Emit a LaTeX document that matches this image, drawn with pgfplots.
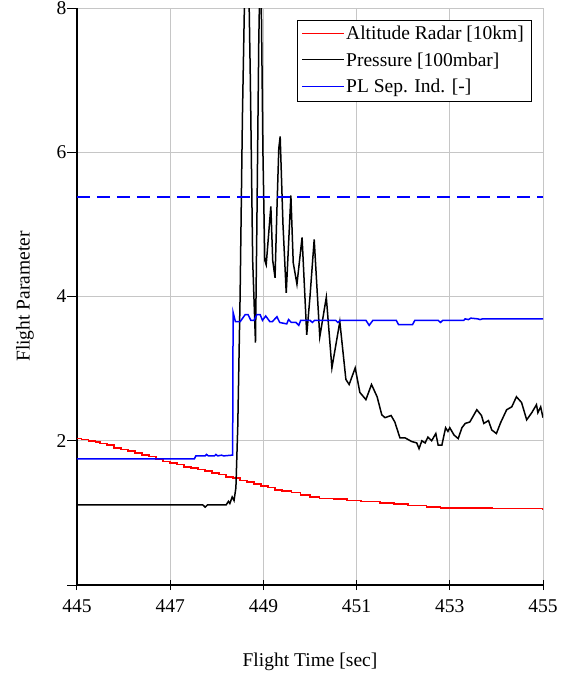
\documentclass[border=0pt]{standalone}
\usepackage{pgfplots}
\pgfplotsset{compat=1.18}
\usepackage{fontspec}
\setmainfont{Liberation Serif}
\begin{document}
\fontsize{19.5}{23}\selectfont
\begin{tikzpicture}
\begin{axis}[
  scale only axis, width=466pt, height=577pt,
  xmin=445, xmax=455, ymin=0, ymax=8,
  xtick={445,447,...,455}, ytick={0,2,4,6,8},
  yticklabels={,2,4,6,8},
  /pgf/number format/assume math mode=true,
  xticklabel style={/pgf/number format/1000 sep={}},
  axis x line=bottom, axis y line=left,
  axis line style={-, line width=1.2pt, black},
  x tick style={black, line width=1pt}, y tick style={black, line width=1pt},
  xtick align=center, ytick align=outside,
  major tick length=10pt,
  grid=major, major grid style={gray!45, line width=0.9pt},
  tick label style={font=\fontsize{19.5}{23}\selectfont},
  xticklabel shift=3pt, yticklabel shift=-6pt,
  xlabel={Flight Time [sec]}, ylabel={Flight Parameter},
  label style={font=\fontsize{19.5}{23}\selectfont},
  xlabel style={at={(axis description cs:0.5,-0.1335)}, anchor=center},
  ylabel style={at={(axis description cs:-0.1116,0.5)}, anchor=center, rotate=0},
  legend style={at={(axis description cs:1,1)}, anchor=north east, xshift=-12pt, yshift=-12pt,
    font=\fontsize{19.5}{23}\selectfont, row sep=0pt, inner xsep=5pt, inner ysep=1pt,
    nodes={inner ysep=5pt}},
  legend cell align=left,
  clip=true,
]
\addplot[red, line width=1.6pt, const plot, forget plot] coordinates {
(445.00,2.03)(445.10,2.02)(445.25,2.00)(445.40,1.98)(445.50,1.96)(445.65,1.94)
(445.80,1.90)(445.95,1.88)(446.10,1.86)(446.25,1.83)(446.40,1.80)(446.55,1.78)
(446.70,1.74)(446.85,1.71)(447.00,1.69)(447.15,1.67)(447.30,1.64)(447.45,1.62)
(447.60,1.60)(447.75,1.58)(447.90,1.55)(448.05,1.53)(448.20,1.50)(448.35,1.48)
(448.50,1.45)(448.65,1.43)(448.80,1.40)(448.95,1.37)(449.10,1.35)(449.25,1.32)
(449.40,1.30)(449.60,1.28)(449.80,1.25)(450.00,1.22)(450.20,1.20)(450.50,1.19)
(450.80,1.17)(451.10,1.16)(451.50,1.14)(451.80,1.12)(452.10,1.10)(452.50,1.08)
(452.80,1.07)(453.50,1.07)(453.90,1.06)(455.00,1.05)};
\addplot[black, line width=1.5pt, forget plot] coordinates {
(445.00,1.11)(447.70,1.11)(447.75,1.08)(447.80,1.11)(448.20,1.11)(448.25,1.16)
(448.28,1.13)(448.33,1.22)(448.37,1.17)(448.41,1.35)(448.45,2.2)(448.50,4.0)
(448.55,6.5)(448.60,8.3)(448.67,9.0)(448.72,7.0)(448.77,4.5)(448.83,3.36)
(448.86,5.0)(448.90,7.5)(448.94,9.0)(448.99,6.0)(449.03,4.50)(449.06,4.44)
(449.16,5.25)(449.20,4.5)(449.25,4.26)(449.29,5.2)(449.33,6.05)(449.36,6.22)
(449.42,5.0)(449.49,4.05)(449.59,5.40)(449.64,4.47)(449.72,4.17)(449.83,4.82)
(449.93,3.47)(450.00,4.0)(450.09,4.79)(450.21,3.44)(450.35,3.99)(450.47,3.01)
(450.64,3.65)(450.77,2.85)(450.84,2.78)(450.97,3.01)(451.07,2.67)(451.20,2.57)
(451.32,2.78)(451.44,2.61)(451.54,2.36)(451.61,2.32)(451.74,2.35)(451.82,2.26)
(451.93,2.04)(452.04,2.04)(452.18,1.99)(452.29,1.97)(452.34,1.89)(452.40,2.00)
(452.47,1.97)(452.53,2.05)(452.61,2.00)(452.70,2.10)(452.75,1.94)(452.83,1.94)
(452.91,2.18)(452.96,2.13)(453.00,2.18)(453.09,2.08)(453.18,2.03)(453.26,2.18)
(453.33,2.24)(453.43,2.26)(453.58,2.43)(453.68,2.35)(453.73,2.24)(453.83,2.28)
(453.90,2.15)(454.00,2.10)(454.09,2.25)(454.22,2.43)(454.33,2.47)(454.43,2.61)
(454.54,2.53)(454.65,2.29)(454.76,2.39)(454.86,2.50)(454.89,2.39)(454.95,2.47)
(455.00,2.32)};
\addplot[blue, line width=1.5pt, forget plot] coordinates {
(445.00,1.75)(447.52,1.75)(447.55,1.79)(447.75,1.79)(447.78,1.81)(447.82,1.79)
(447.95,1.79)(447.98,1.81)(448.02,1.79)(448.10,1.80)(448.15,1.79)(448.32,1.80)
(448.34,1.80)(448.35,3.78)(448.40,3.65)(448.50,3.65)(448.61,3.75)(448.67,3.75)
(448.73,3.67)(448.80,3.67)(448.86,3.75)(448.93,3.75)(448.98,3.67)(449.05,3.73)
(449.14,3.65)(449.19,3.65)(449.29,3.72)(449.35,3.64)(449.50,3.62)(449.54,3.68)
(449.60,3.64)(449.70,3.64)(449.76,3.60)(449.80,3.67)(450.00,3.67)(450.05,3.64)
(450.10,3.67)(450.55,3.67)(450.60,3.64)(450.65,3.67)(451.20,3.67)(451.27,3.60)
(451.35,3.67)(451.85,3.67)(451.90,3.61)(452.20,3.61)(452.25,3.67)(452.75,3.67)
(452.80,3.64)(452.85,3.67)(453.30,3.67)(453.33,3.69)(453.40,3.68)(453.45,3.70)
(453.60,3.69)(453.65,3.68)(453.70,3.69)(455.00,3.69)};
\addplot[blue, line width=2.8pt, dash pattern=on 13pt off 7pt, forget plot] coordinates {(445,5.38)(455,5.38)};
\addlegendimage{legend image code/.code={\node[inner sep=0pt, anchor=west] at (0pt,0pt) {\textcolor{red}{\rule[-0.7pt]{42pt}{1.4pt}}};}}
\addlegendentry{Altitude Radar [10km]}
\addlegendimage{legend image code/.code={\node[inner sep=0pt, anchor=west] at (0pt,0pt) {\textcolor{black}{\rule[-0.7pt]{42pt}{1.4pt}}};}}
\addlegendentry{Pressure [100mbar]}
\addlegendimage{legend image code/.code={\node[inner sep=0pt, anchor=west] at (0pt,0pt) {\textcolor{blue}{\rule[-0.7pt]{42pt}{1.4pt}}};}}
\addlegendentry{PL Sep. Ind. [-]}
\end{axis}
\pgfresetboundingbox
\path (current axis.origin) ++(-77pt,-88pt) rectangle ++(563pt,673pt);
\end{tikzpicture}
\end{document}
